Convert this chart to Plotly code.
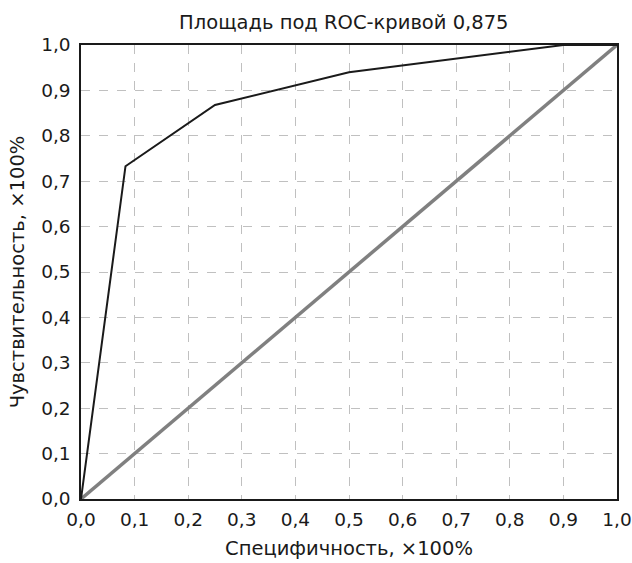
import plotly.graph_objects as go

fpr = [0.0, 0.083, 0.25, 0.5, 0.9, 1.0]
tpr = [0.0, 0.733, 0.868, 0.94, 1.0, 1.0]
diag_x = [0.0, 1.0]
diag_y = [0.0, 1.0]
tick_vals = [i / 10 for i in range(11)]
tick_text = ["0,0", "0,1", "0,2", "0,3", "0,4", "0,5", "0,6", "0,7", "0,8", "0,9", "1,0"]

fig = go.Figure()
fig.add_trace(go.Scatter(x=diag_x, y=diag_y, mode="lines",
                         line=dict(color="#808080", width=3.5), showlegend=False))
fig.add_trace(go.Scatter(x=fpr, y=tpr, mode="lines",
                         line=dict(color="#1a1a1a", width=2), showlegend=False))

font = "DejaVu Sans, sans-serif"
axis_common = dict(range=[0, 1], tickvals=tick_vals, ticktext=tick_text,
                   showgrid=True, gridcolor="#c0c0c0", griddash="dash", gridwidth=1,
                   showline=True, linecolor="#1a1a1a", linewidth=1.5, mirror=True,
                   zeroline=False, ticks="", automargin=False, ticklabeloverflow="allow",
                   tickfont=dict(size=18.5, color="#1a1a1a", family=font))
fig.update_xaxes(**axis_common, ticklabelstandoff=3,
                 title=dict(text="Специфичность, ×100%", font=dict(size=19.5, color="#1a1a1a", family=font), standoff=12))
fig.update_yaxes(**axis_common, ticklabelstandoff=5,
                 title=dict(text="Чувствительность, ×100%", font=dict(size=19.5, color="#1a1a1a", family=font), standoff=11))

fig.update_layout(
    width=632, height=563,
    margin=dict(l=81, r=15, t=45, b=64),
    paper_bgcolor="white", plot_bgcolor="white",
    title=dict(text="Площадь под ROC-кривой 0,875", x=0.544, xanchor="center", y=0.961, yanchor="middle",
               font=dict(size=19.5, color="#1a1a1a", family=font)),
)
fig.write_html("out.html", config={"displayModeBar": False},
               post_script="document.body.style.margin='0';document.body.style.overflow='hidden';")
